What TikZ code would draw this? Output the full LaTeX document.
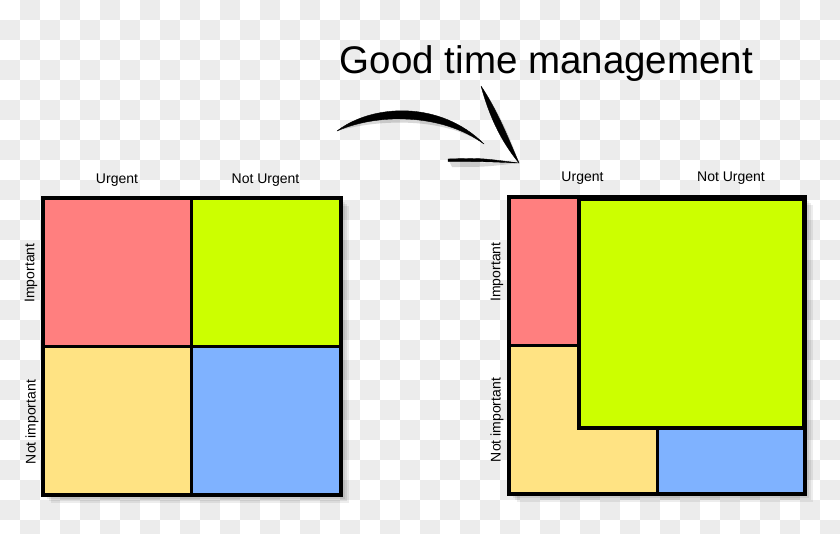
\documentclass[tikz,border=0pt]{standalone}
\usepackage{fontspec}
\setmainfont{Liberation Sans}
\definecolor{checkgray}{HTML}{ECECEC}
\definecolor{qred}{HTML}{FF7F7F}
\definecolor{qgreen}{HTML}{CCFF00}
\definecolor{qyellow}{HTML}{FFE383}
\definecolor{qblue}{HTML}{7FB2FF}
\tikzset{
  quad/.style={draw=black, line width=3pt, line join=miter},
  frame/.style={draw=black, line width=3.6pt, line join=miter},
  lbl/.style={font=\fontsize{14}{16}\selectfont, inner sep=0pt},
  ttl/.style={font=\fontsize{38.5}{46}\selectfont, inner sep=0pt},
  shd/.style={fill=black, fill opacity=0.07, draw=none},
  swoosh/.style={fill=black, draw=black, line width=0.4pt, line join=round}
}
\begin{document}
\begin{tikzpicture}[x=1pt,y=-1pt]
\useasboundingbox (0,0) rectangle (840,533);
\fill[white] (0,0) rectangle (840,533);
% checkerboard background
\foreach \i in {0,...,41}{
  \foreach \j in {0,...,26}{
    \pgfmathtruncatemacro\chk{mod(\i+\j,2)}
    \ifnum\chk=1 \fill[checkgray] (\i*20,\j*20) rectangle ++(20,20); \fi
  }
}
% soft shadows of the two grids
\foreach \d in {2,4,6,8}{
  \fill[shd] (43+\d,198+\d) rectangle (341+\d,495+\d);
  \fill[shd] (509+\d,197+\d) rectangle (805+\d,494+\d);
}
% ---- left grid ----
\path[quad, fill=qred]    (43,198)    rectangle (191.5,346.5);
\path[quad, fill=qgreen]  (191.5,198) rectangle (341,346.5);
\path[quad, fill=qyellow] (43,346.5)  rectangle (191.5,495);
\path[quad, fill=qblue]   (191.5,346.5) rectangle (341,495);
\path[frame] (43,198) rectangle (341,495);
% ---- right grid ----
\path[quad, fill=qred] (509,197) rectangle (579,345);
\path[quad, fill=qyellow] (509,345) -- (579,345) -- (579,428) -- (657,428) -- (657,494) -- (509,494) -- cycle;
\path[quad, fill=qblue] (657,428) rectangle (805,494);
\path[quad, line width=4pt, fill=qgreen] (579,199) rectangle (804,428);
\path[frame] (509,197) rectangle (805,494);
% ---- labels ----
\node[lbl] (u1) at (117,180) {Urgent};
\node[lbl] (nu1) at (265.5,180) {Not Urgent};
\node[lbl, rotate=90] (i1) at (31,273) {Important};
\node[lbl, rotate=90] (ni1) at (32,422) {Not important};
\node[lbl] (u2) at (582.5,178) {Urgent};
\node[lbl] (nu2) at (731,178) {Not Urgent};
\node[lbl, rotate=90] (i2) at (497,272) {Important};
\node[lbl, rotate=90] (ni2) at (497,420) {Not important};
% ---- title ----
\node[ttl, anchor=base] (title) at (546.5,73) {Good time management};
% ---- swoosh arrow ----
\coordinate (sA) at (337,131);
\coordinate (sB) at (484,144);
\coordinate (tip) at (519,163);
\coordinate (hU) at (481,86);
\coordinate (hL) at (448,159);
\begin{scope}[shift={(4,5)}]
  \fill[black, opacity=0.15] (sA) .. controls (372,104) and (440,100) .. (sB) .. controls (440,112) and (375,114) .. (sA) -- cycle;
  \fill[black, opacity=0.15] (hU) .. controls (497,110) and (507,135) .. (tip) .. controls (500,140) and (489,115) .. (hU) -- cycle;
  \fill[black, opacity=0.15] (hL) .. controls (480,158) .. (tip) .. controls (480,162) .. (448,162) -- cycle;
\end{scope}
\path[swoosh] (sA) .. controls (372,104) and (440,100) .. (sB) .. controls (440,112) and (375,114) .. (sA) -- cycle;
\path[swoosh] (hU) .. controls (497,110) and (507,135) .. (tip) .. controls (500,140) and (489,115) .. (hU) -- cycle;
\path[swoosh] (hL) .. controls (480,158) .. (tip) .. controls (480,161.5) .. (448,161.5) -- cycle;
\end{tikzpicture}
\end{document}
